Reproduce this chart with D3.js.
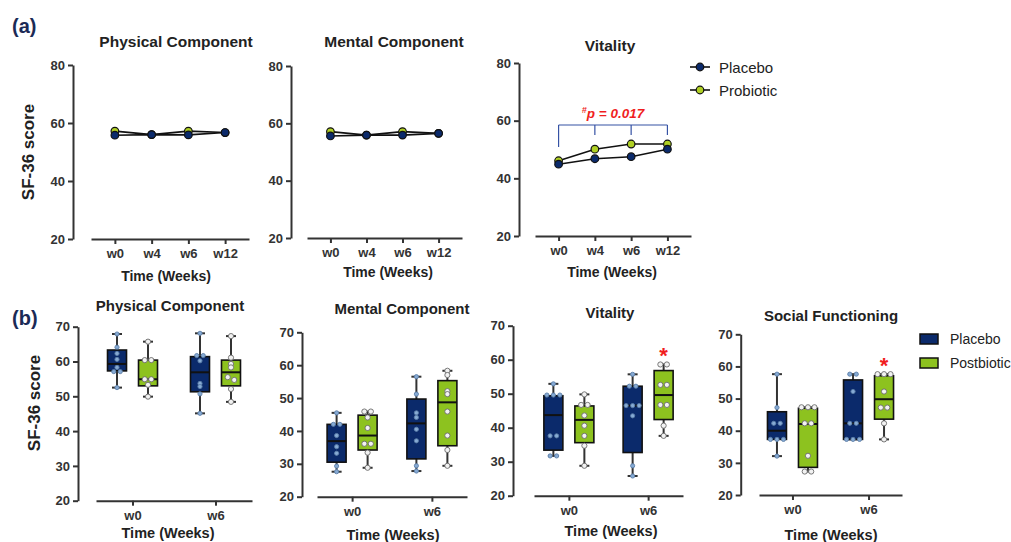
<!DOCTYPE html>
<html>
<head>
<meta charset="utf-8">
<script src="https://cdn.jsdelivr.net/npm/d3@7"></script>
<style>
  body { margin: 0; background: #fff; }
  svg { font-family: "Liberation Sans", Arial, sans-serif; }
</style>
</head>
<body>
<svg id="chart" width="1011" height="542"></svg>
<script>
// data
var weeksA = ['w0', 'w4', 'w6', 'w12'];
var physA_placebo = [55.8, 56.0, 55.9, 56.7];
var physA_probiotic = [57.2, 56.0, 57.2, 56.7];
var mentA_placebo = [55.6, 55.9, 55.9, 56.5];
var mentA_probiotic = [57.1, 55.9, 57.1, 56.5];
var vitA_placebo = [44.9, 46.8, 47.5, 50.1];
var vitA_probiotic = [46.1, 50.1, 51.9, 51.9];
var ticksA = [20, 40, 60, 80];

var weeksB = ['w0', 'w6'];
var ticksB = [20, 30, 40, 50, 60, 70];
// box stats: [min, q1, median, q3, max] for w0 and w6
var physB_placeboBox = [[52.5, 57.3, 59.3, 63.3, 67.9], [45.1, 51.3, 56.9, 61.4, 68.1]];
var physB_postBox = [[49.9, 53.0, 54.9, 60.4, 65.7], [48.4, 53.0, 56.9, 60.4, 67.3]];
var physB_placeboPts = [[67.9, 64.1, 62.3, 60.6, 58.3, 57.1, 57.1, 52.5], [68.1, 61.7, 61.7, 60.2, 53.7, 52.8, 50.7, 45.1]];
var physB_postPts = [[65.7, 60.4, 60.4, 54.9, 54.9, 53.3, 49.9], [67.3, 61.1, 59.3, 58.3, 55.5, 54.7, 52.1, 48.4]];

var mentB_placeboBox = [[27.6, 30.5, 36.9, 42.0, 45.5], [27.8, 31.5, 42.3, 49.7, 56.5]];
var mentB_postBox = [[28.8, 34.2, 38.6, 44.8, 45.9], [29.4, 35.5, 48.7, 55.3, 58.3]];
var mentB_placeboPts = [[45.5, 42.0, 42.0, 38.6, 35.2, 33.2, 29.3, 27.6], [56.5, 51.2, 45.5, 44.1, 40.5, 37.0, 29.4, 27.8]];
var mentB_postPts = [[45.9, 45.9, 44.1, 40.9, 36.1, 36.1, 33.4, 28.8], [58.3, 57.0, 52.1, 51.2, 45.9, 38.6, 34.2, 29.4]];

var vitB_placeboBox = [[31.7, 33.4, 43.7, 49.4, 52.9], [25.8, 32.7, 46.5, 52.2, 55.7]];
var vitB_postBox = [[28.8, 35.6, 42.3, 46.4, 49.8], [37.6, 42.4, 49.6, 56.8, 58.6]];
var vitB_placeboPts = [[52.9, 49.6, 49.6, 49.6, 37.6, 37.6, 31.7, 31.7], [55.7, 52.2, 52.2, 46.5, 46.5, 46.5, 43.5, 28.8, 25.8]];
var vitB_postPts = [[49.8, 46.7, 46.7, 43.6, 40.6, 37.6, 34.7, 28.8], [58.6, 58.6, 52.6, 52.6, 46.7, 46.7, 40.6, 37.6]];

var socB_placeboBox = [[32.1, 37.3, 40.0, 45.9, 57.6], [37.3, 37.3, 42.3, 55.8, 57.6]];
var socB_postBox = [[27.3, 28.6, 42.1, 47.0, 47.3], [37.3, 43.6, 49.8, 57.1, 57.6]];
var socB_placeboPts = [[57.6, 47.2, 42.3, 42.3, 37.3, 37.3, 37.3, 32.1], [57.6, 57.6, 52.2, 42.3, 42.3, 37.3, 37.3, 37.3]];
var socB_postPts = [[47.3, 47.3, 47.3, 42.3, 42.3, 32.2, 27.3, 27.3], [57.6, 57.6, 57.6, 52.2, 47.2, 47.2, 42.3, 37.3]];

// which (week, group) got a star
var vitB_star = [null, 'post'];
var socB_star = [null, 'post'];

var NAVY = '#0b2a6b', GREEN = '#8dc21f', PROBIO = '#b0d024', AXIS = '#333';

var svg = d3.select('#chart');

function styleAxis(g, size) {
    g.selectAll('path, line').attr('stroke', AXIS).attr('stroke-width', 2);
    g.selectAll('text')
        .attr('fill', AXIS)
        .attr('font-size', size)
        .attr('font-weight', 'bold');
}

function chartText(x, y, txt, size, weight) {
    return svg.append('text')
        .attr('x', x).attr('y', y)
        .attr('text-anchor', 'middle')
        .attr('dominant-baseline', 'central')
        .attr('font-size', size)
        .attr('font-weight', weight || 'bold')
        .attr('fill', '#222')
        .text(txt);
}

// panel (a): line charts
function lineChart(c) {
    var y = d3.scaleLinear().domain([20, 80]).range([c.yBot, c.yTop]);
    var x = d3.scalePoint().domain(weeksA).range([c.x0, c.x1]).padding(0.65);

    svg.append('g').attr('transform', 'translate(' + c.ax + ',0)')
        .call(d3.axisLeft(y).tickValues(ticksA).tickSize(5).tickSizeOuter(0).tickPadding(3))
        .call(styleAxis, 13);
    svg.append('g').attr('transform', 'translate(0,' + c.yBot + ')')
        .call(d3.axisBottom(x).tickSize(5).tickSizeOuter(0).tickPadding(5))
        .call(styleAxis, 13);

    chartText(c.titleX, c.titleY, c.title, 15.5);
    chartText(c.labelX, c.labelY, 'Time (Weeks)', 14);

    var line = d3.line().x(function(d, i) { return x(weeksA[i]); }).y(function(d) { return y(d); });
    c.series.forEach(function(s) {
        svg.append('path').datum(s.vals)
            .attr('d', line).attr('fill', 'none')
            .attr('stroke', '#111').attr('stroke-width', 1.6);
    });
    c.series.forEach(function(s) {
        svg.append('g').selectAll('circle').data(s.vals).join('circle')
            .attr('cx', function(d, i) { return x(weeksA[i]); })
            .attr('cy', function(d) { return y(d); })
            .attr('r', 3.8)
            .attr('fill', s.color)
            .attr('stroke', '#111').attr('stroke-width', 1.2);
    });
    return {x: x, y: y};
}

// spread equal values sideways like the original dot plot
function spread(vals) {
    var sorted = vals.slice().sort(d3.descending), out = [], group = [];
    function flush() {
        group.forEach(function(v, k) { out.push({v: v, dx: (k - (group.length - 1) / 2) * 6.5}); });
        group = [];
    }
    sorted.forEach(function(v) {
        if (group.length && Math.abs(group[group.length - 1] - v) > 0.8) flush();
        group.push(v);
    });
    flush();
    return out;
}

// panel (b): box charts
function boxChart(c) {
    var y = d3.scaleLinear().domain([20, 70]).range([c.yBot, c.yTop]);
    var x = d3.scalePoint().domain(weeksB).range([c.x0, c.x1]).padding(0.44);
    var off = d3.scaleOrdinal().domain(['placebo', 'post']).range([-15.5, 15.5]);
    var bw = 19;

    svg.append('g').attr('transform', 'translate(' + c.ax + ',0)')
        .call(d3.axisLeft(y).tickValues(ticksB).tickSize(5).tickSizeOuter(0).tickPadding(3))
        .call(styleAxis, 13);
    svg.append('g').attr('transform', 'translate(0,' + c.yBot + ')')
        .call(d3.axisBottom(x).tickSize(5).tickSizeOuter(0).tickPadding(5))
        .call(styleAxis, 13);

    chartText(c.titleX, c.titleY, c.title, 15);
    chartText(c.labelX, c.labelY, 'Time (Weeks)', 14.5);

    c.groups.forEach(function(gr) {
        weeksB.forEach(function(w, i) {
            var b = gr.box[i];
            var cx = x(w) + off(gr.key);
            var g = svg.append('g');
            g.append('line')
                .attr('x1', cx).attr('x2', cx).attr('y1', y(b[0])).attr('y2', y(b[4]))
                .attr('stroke', AXIS).attr('stroke-width', 2);
            [b[0], b[4]].forEach(function(v) {
                g.append('line')
                    .attr('x1', cx - 5).attr('x2', cx + 5).attr('y1', y(v)).attr('y2', y(v))
                    .attr('stroke', AXIS).attr('stroke-width', 2);
            });
            g.append('rect')
                .attr('x', cx - bw / 2).attr('width', bw)
                .attr('y', y(b[3])).attr('height', y(b[1]) - y(b[3]))
                .attr('fill', gr.fill)
                .attr('stroke', '#111').attr('stroke-width', 1.6);
            g.append('line')
                .attr('x1', cx - bw / 2).attr('x2', cx + bw / 2).attr('y1', y(b[2])).attr('y2', y(b[2]))
                .attr('stroke', '#111').attr('stroke-width', 2);
            g.selectAll('circle').data(spread(gr.pts[i])).join('circle')
                .attr('cx', function(d) { return cx + d.dx; })
                .attr('cy', function(d) { return y(d.v); })
                .attr('r', gr.r)
                .attr('fill', gr.ptFill)
                .attr('stroke', gr.ptStroke).attr('stroke-width', 0.9);
            if (c.star && c.star[i] === gr.key) {
                svg.append('text')
                    .attr('x', cx).attr('y', y(b[4]) - 1)
                    .attr('text-anchor', 'middle')
                    .attr('font-size', 22).attr('font-weight', 'bold')
                    .attr('fill', '#f01e1e')
                    .text('*');
            }
        });
    });
}

function groupsB(plBox, plPts, poBox, poPts) {
    return [
        {key: 'placebo', box: plBox, pts: plPts, fill: NAVY, ptFill: '#86aad4', ptStroke: '#5c7fa8', r: 2.1},
        {key: 'post', box: poBox, pts: poPts, fill: GREEN, ptFill: '#f2f2f2', ptStroke: '#6b6b6b', r: 2.6}
    ];
}

// panel labels and y titles
svg.append('text').attr('x', 12).attr('y', 33).attr('font-size', 20).attr('font-weight', 'bold')
    .attr('fill', '#1b2a56').text('(a)');
svg.append('text').attr('x', 12).attr('y', 325).attr('font-size', 20).attr('font-weight', 'bold')
    .attr('fill', '#1b2a56').text('(b)');
chartText(28, 152, 'SF-36 score', 17).attr('transform', 'rotate(-90,28,152)');
chartText(34, 403, 'SF-36 score', 17).attr('transform', 'rotate(-90,34,403)');

lineChart({ax: 73, x0: 91, x1: 249, yTop: 65, yBot: 239, title: 'Physical Component',
    titleX: 176, titleY: 41, labelX: 166, labelY: 276,
    series: [{vals: physA_probiotic, color: PROBIO}, {vals: physA_placebo, color: NAVY}]});
lineChart({ax: 291, x0: 307, x1: 462, yTop: 66, yBot: 238, title: 'Mental Component',
    titleX: 394, titleY: 41, labelX: 388, labelY: 272,
    series: [{vals: mentA_probiotic, color: PROBIO}, {vals: mentA_placebo, color: NAVY}]});
var vit = lineChart({ax: 519, x0: 535, x1: 691, yTop: 63, yBot: 236, title: 'Vitality',
    titleX: 610, titleY: 45, labelX: 612, labelY: 272,
    series: [{vals: vitA_probiotic, color: PROBIO}, {vals: vitA_placebo, color: NAVY}]});

// significance bracket on vitality
var brTop = 125;
svg.append('line')
    .attr('x1', vit.x('w0')).attr('x2', vit.x('w12')).attr('y1', brTop).attr('y2', brTop)
    .attr('stroke', '#3552a4').attr('stroke-width', 1.2);
weeksA.forEach(function(w, i) {
    svg.append('line')
        .attr('x1', vit.x(w)).attr('x2', vit.x(w))
        .attr('y1', brTop).attr('y2', i === 0 ? brTop + 22 : brTop + 10)
        .attr('stroke', '#3552a4').attr('stroke-width', 1.2);
});
var pt = svg.append('text').attr('x', 613).attr('y', 118).attr('text-anchor', 'middle')
    .attr('font-size', 13.5).attr('font-weight', 'bold').attr('font-style', 'italic').attr('fill', '#f01e1e');
pt.append('tspan').attr('font-size', 9).attr('dy', -5).text('#');
pt.append('tspan').attr('dy', 5).text('p = 0.017');

// legend (a)
[['Placebo', NAVY], ['Probiotic', PROBIO]].forEach(function(d, i) {
    var ly = 67 + i * 23;
    svg.append('line').attr('x1', 690).attr('x2', 710).attr('y1', ly).attr('y2', ly)
        .attr('stroke', '#111').attr('stroke-width', 1.6);
    svg.append('circle').attr('cx', 700).attr('cy', ly).attr('r', 3.8)
        .attr('fill', d[1]).attr('stroke', '#111').attr('stroke-width', 1.2);
    svg.append('text').attr('x', 719).attr('y', ly).attr('dominant-baseline', 'central')
        .attr('font-size', 15).attr('fill', '#222').text(d[0]);
});

boxChart({ax: 78, x0: 96, x1: 252, yTop: 326.7, yBot: 500.7, title: 'Physical Component',
    titleX: 170, titleY: 305, labelX: 168, labelY: 533,
    groups: groupsB(physB_placeboBox, physB_placeboPts, physB_postBox, physB_postPts)});
boxChart({ax: 302, x0: 317, x1: 467, yTop: 332.3, yBot: 496.7, title: 'Mental Component',
    titleX: 402, titleY: 308, labelX: 393, labelY: 535,
    groups: groupsB(mentB_placeboBox, mentB_placeboPts, mentB_postBox, mentB_postPts)});
boxChart({ax: 513, x0: 534, x1: 683, yTop: 325.7, yBot: 495.7, title: 'Vitality',
    titleX: 610, titleY: 312, labelX: 611, labelY: 531, star: vitB_star,
    groups: groupsB(vitB_placeboBox, vitB_placeboPts, vitB_postBox, vitB_postPts)});
boxChart({ax: 740.7, x0: 759, x1: 902, yTop: 334.3, yBot: 495, title: 'Social Functioning',
    titleX: 831, titleY: 315, labelX: 831, labelY: 535, star: socB_star,
    groups: groupsB(socB_placeboBox, socB_placeboPts, socB_postBox, socB_postPts)});

// legend (b)
[['Placebo', NAVY], ['Postbiotic', GREEN]].forEach(function(d, i) {
    var ly = 339 + i * 24;
    svg.append('rect').attr('x', 920).attr('y', ly - 5).attr('width', 18).attr('height', 10)
        .attr('fill', d[1]).attr('stroke', '#111').attr('stroke-width', 1.5);
    svg.append('text').attr('x', 950).attr('y', ly).attr('dominant-baseline', 'central')
        .attr('font-size', 14).attr('fill', '#222').text(d[0]);
});
</script>
</body>
</html>
